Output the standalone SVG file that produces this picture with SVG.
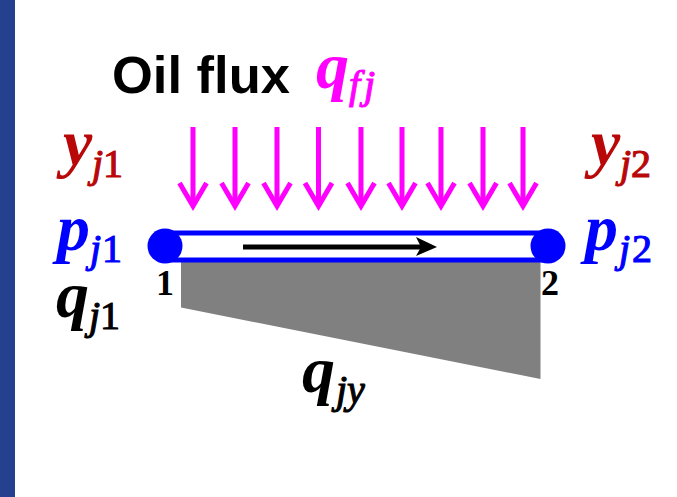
<svg xmlns="http://www.w3.org/2000/svg" width="677" height="497" viewBox="0 0 677 497">
<style>
.s{font-family:"Liberation Serif","Times New Roman",serif}
.v{font-style:italic;font-weight:bold;font-size:66px}
.j{font-style:italic;font-size:40px;stroke-width:1.100px}
.n{font-size:40px;stroke-width:1.100px}
.r{fill:#b80808;stroke:#b80808;stroke-width:0}.b{fill:#0000ff;stroke:#0000ff;stroke-width:0}.k{fill:#000;stroke:#000;stroke-width:0}.m{fill:#ff00ff;stroke:#ff00ff;stroke-width:0}
.d{font-size:36px;font-weight:bold}
.fa{stroke:#ff00ff;stroke-width:5;fill:none}
</style>
<defs>
<g id="flux"><path class="fa" d="M0 0V79"/><path class="fa" d="M-13.500 56L0 79L13.500 56"/></g>
</defs>
<rect width="677" height="497" fill="#fff"/>
<rect id="band" width="15" height="497" fill="#24408e"/>
<g id="title"><text x="112" y="93" font-family="Liberation Sans,Arial,sans-serif" font-weight="bold" font-size="52.500" fill="#000">Oil flux</text></g>
<g id="q-fj" class="s m"><text class="v" x="316" y="88">q</text><text class="j" x="349" y="98" letter-spacing="4">fj</text></g>
<g id="y-j1" class="s r"><text class="v" x="63" y="165">y</text><text class="j" x="92" y="177">j</text><text class="n" x="103" y="177">1</text></g>
<g id="y-j2" class="s r"><text class="v" x="591" y="165">y</text><text class="j" x="620" y="177">j</text><text class="n" x="631" y="177">2</text></g>
<g id="p-j1" class="s b"><text class="v" x="57" y="250">p</text><text class="j" x="90" y="262">j</text><text class="n" x="102" y="262">1</text></g>
<g id="p-j2" class="s b"><text class="v" x="585" y="250">p</text><text class="j" x="619" y="262">j</text><text class="n" x="632" y="262">2</text></g>
<g id="q-j1" class="s k"><text class="v" x="56" y="317">q</text><text class="j" x="89" y="329">j</text><text class="n" x="100" y="329">1</text></g>
<g id="q-jy" class="s k"><text class="v" x="302" y="392">q</text><text class="j" x="336" y="403">jy</text></g>
<g id="load"><path d="M181 262H540.500V379L181 307.500Z" fill="#808080"/></g>
<g id="label-1" class="s k"><text class="d" x="156" y="295">1</text></g>
<g id="label-2" class="s k"><text class="d" x="541" y="295">2</text></g>
<g id="connectors">
<use href="#flux" x="193" y="127"/><use href="#flux" x="235" y="127"/><use href="#flux" x="277" y="127"/><use href="#flux" x="318.500" y="127"/><use href="#flux" x="361" y="127"/><use href="#flux" x="402" y="127"/><use href="#flux" x="441" y="127"/><use href="#flux" x="483" y="127"/><use href="#flux" x="523" y="127"/>
<path d="M243 247H425" stroke="#000" stroke-width="5" fill="none"/>
<path d="M437 247L416 237L421 247L416 256Z" fill="#000"/>
</g>
<g id="pipe">
<path d="M165 233H548M165 260H548" stroke="#0000ff" stroke-width="5" fill="none"/>
<circle cx="165" cy="246" r="17.500" fill="#0000ff"/>
<circle cx="548" cy="246" r="17.500" fill="#0000ff"/>
</g>
</svg>
